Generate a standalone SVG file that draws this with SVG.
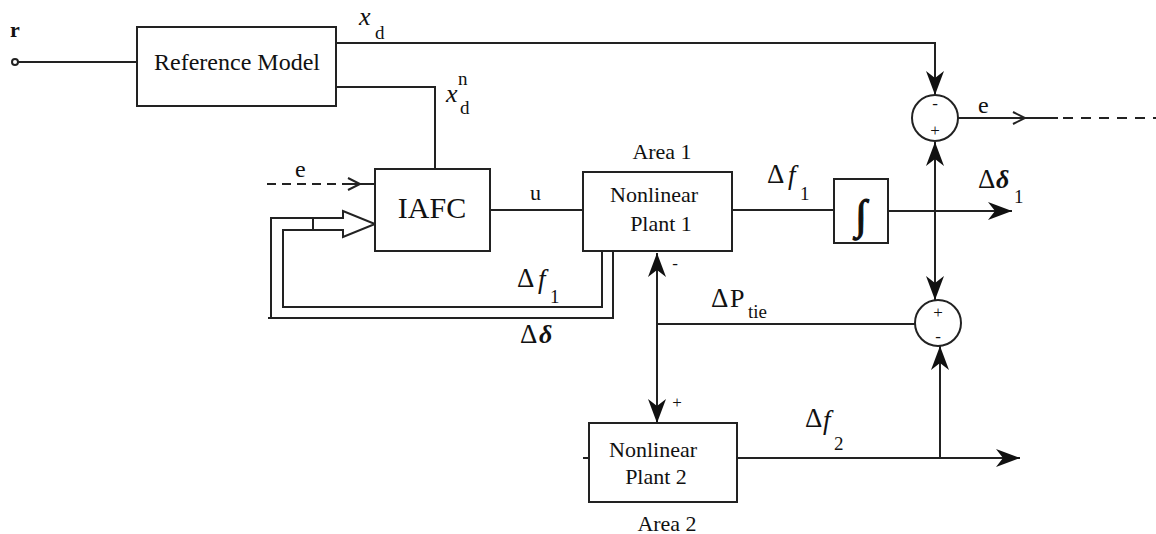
<svg xmlns="http://www.w3.org/2000/svg" width="1156" height="534" viewBox="0 0 1156 534">
<style>
.bx{fill:#fff;stroke:#222;stroke-width:2}
.ln{fill:none;stroke:#222;stroke-width:2}
.dash{fill:none;stroke:#222;stroke-width:2;stroke-dasharray:9,6}
text{font-family:"Liberation Serif","Times New Roman",serif;fill:#111}
.t22{font-size:22px}
.t24{font-size:24px}
.sub{font-size:19px}
.dl{font-size:27px}
.f{font-size:27px;font-style:italic}
.bd{font-size:26px;font-style:italic;font-weight:bold}
.sg{font-size:17px;text-anchor:middle}
</style>
<defs>
<marker id="ah" markerUnits="userSpaceOnUse" markerWidth="26" markerHeight="20" refX="24" refY="9" orient="auto">
<path d="M24,9 L0,0 L7,9 L0,18 Z" fill="#111"/>
</marker>
<marker id="ahs" markerUnits="userSpaceOnUse" markerWidth="26" markerHeight="20" refX="24" refY="9" orient="auto-start-reverse">
<path d="M24,9 L0,0 L7,9 L0,18 Z" fill="#111"/>
</marker>
</defs>
<rect width="1156" height="534" fill="#fff"/>

<g id="connectors">
<line class="ln" x1="18" y1="62" x2="137" y2="62"/>
<polyline class="ln" points="336,43 935,43 935,95" marker-end="url(#ah)"/>
<polyline class="ln" points="336,87 435,87 435,169"/>
<line class="dash" x1="267" y1="184" x2="350" y2="184"/>
<line class="ln" x1="350" y1="184" x2="375" y2="184"/>
<polyline class="ln" points="348,178 360,184 348,190"/>
<line class="ln" x1="490" y1="210" x2="583" y2="210"/>
<line class="ln" x1="732" y1="210" x2="834" y2="210"/>
<line class="ln" x1="888" y1="211" x2="1012" y2="211" marker-end="url(#ah)"/>
<line class="ln" x1="958" y1="118" x2="1058" y2="118"/>
<polyline class="ln" points="1013,112 1025,118 1013,124"/>
<line class="ln" x1="1063" y1="118" x2="1156" y2="118" stroke-dasharray="10,8"/>
<line class="ln" x1="935" y1="142" x2="935" y2="300" marker-start="url(#ahs)" marker-end="url(#ah)"/>
<line class="ln" x1="658" y1="324" x2="915" y2="324"/>
<line class="ln" x1="657" y1="253" x2="657" y2="423" marker-start="url(#ahs)" marker-end="url(#ah)"/>
<line class="ln" x1="737" y1="458" x2="1020" y2="458" marker-end="url(#ah)"/>
<line class="ln" x1="940" y1="458" x2="940" y2="346" marker-end="url(#ah)"/>
<line class="ln" x1="583" y1="458" x2="589" y2="458"/>
<polyline class="ln" points="313,218 271,218 271,318"/>
<polyline class="ln" points="268,318 613,318 613,251"/>
<polyline class="ln" points="313,230 283,230 283,307 602,307 602,251"/>
<polygon class="bx" points="313,218 343,218 343,211 375,224 343,237 343,230 313,230"/>
</g>

<g id="input-r">
<circle cx="15" cy="62" r="3" fill="#fff" stroke="#222" stroke-width="2"/>
<text x="10" y="37" class="t22" font-weight="bold">r</text>
</g>

<g id="reference-model">
<rect class="bx" x="137" y="27" width="199" height="79"/>
<text x="237" y="70" class="t24" text-anchor="middle">Reference Model</text>
</g>

<g id="iafc">
<rect class="bx" x="375" y="169" width="115" height="82"/>
<text x="432" y="218" font-size="30" text-anchor="middle">IAFC</text>
</g>

<g id="plant1">
<rect class="bx" x="583" y="172" width="149" height="79"/>
<text x="654" y="202" class="t22" text-anchor="middle">Nonlinear</text>
<text x="661" y="231" class="t22" text-anchor="middle">Plant 1</text>
<text x="662" y="159" class="t22" text-anchor="middle">Area 1</text>
</g>

<g id="plant2">
<rect class="bx" x="589" y="423" width="148" height="79"/>
<text x="653" y="457" class="t22" text-anchor="middle">Nonlinear</text>
<text x="656" y="484" class="t22" text-anchor="middle">Plant 2</text>
<text x="667" y="531" class="t22" text-anchor="middle">Area 2</text>
</g>

<g id="integrator">
<rect class="bx" x="834" y="179" width="54" height="64"/>
<text x="861" y="229" font-size="42" font-weight="bold" text-anchor="middle" stroke="#111" stroke-width="1.2">∫</text>
</g>

<g id="sum1">
<circle class="bx" cx="935" cy="118" r="23"/>
<text x="935" y="109" class="sg">-</text>
<text x="935" y="136" class="sg">+</text>
</g>

<g id="sum2">
<circle class="bx" cx="938" cy="323" r="23"/>
<text x="938" y="318" class="sg">+</text>
<text x="938" y="342" class="sg">-</text>
</g>

<g id="labels">
<text x="359" y="25" font-size="26" font-style="italic">x</text>
<text x="375" y="39" class="sub">d</text>
<text x="446" y="102" font-size="26" font-style="italic">x</text>
<text x="458" y="85" class="sub">n</text>
<text x="460" y="114" class="sub">d</text>
<text x="295" y="177" class="t24">e</text>
<text x="530" y="200" class="t22">u</text>
<text x="978" y="113" class="t24">e</text>
<text x="767" y="183" class="dl">Δ</text>
<text x="788" y="184" class="f">f</text>
<text x="800" y="200" class="sub">1</text>
<text x="517" y="287" class="dl">Δ</text>
<text x="538" y="288" class="f">f</text>
<text x="550" y="303" class="sub">1</text>
<text x="520" y="343" class="dl">Δ</text>
<text x="539" y="343" class="bd">δ</text>
<text x="978" y="188" class="dl">Δ</text>
<text x="996" y="188" class="bd">δ</text>
<text x="1014" y="203" class="sub">1</text>
<text x="711" y="307" class="dl">Δ</text>
<text x="730" y="307" font-size="26">P</text>
<text x="748" y="318" class="sub">tie</text>
<text x="805" y="427" class="dl">Δ</text>
<text x="823" y="429" class="f">f</text>
<text x="834" y="450" class="sub">2</text>
<text x="675" y="269" class="sg">-</text>
<text x="677" y="408" class="sg">+</text>
</g>
</svg>
